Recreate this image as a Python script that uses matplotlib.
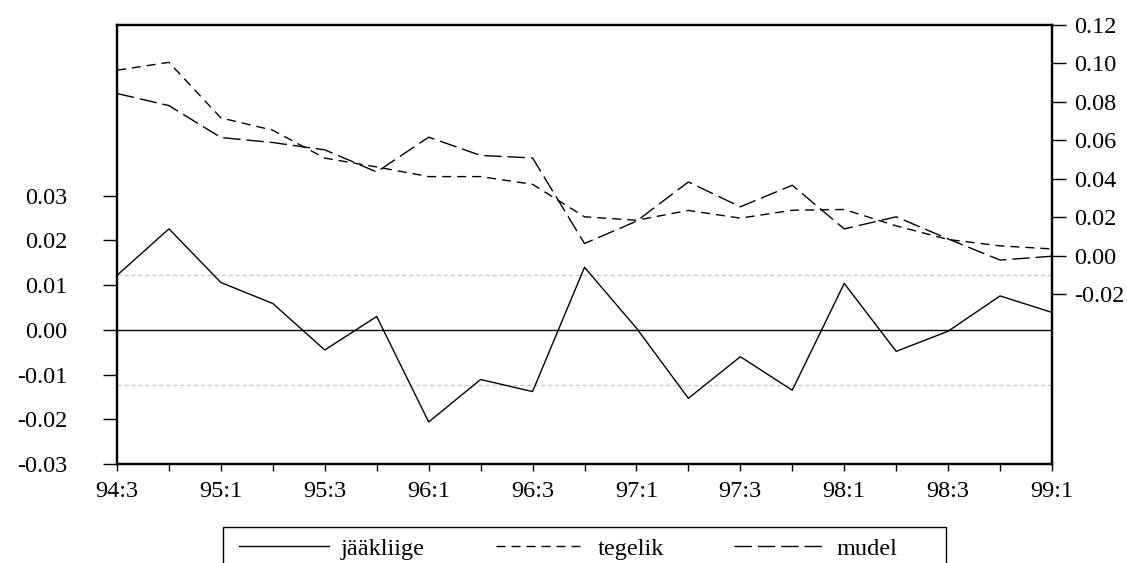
import matplotlib
matplotlib.use("Agg")
import matplotlib.pyplot as plt
import matplotlib.patches as patches
import numpy as np

# quarters 94:3 .. 99:1
quarters = ["94:3", "94:4", "95:1", "95:2", "95:3", "95:4", "96:1", "96:2",
            "96:3", "96:4", "97:1", "97:2", "97:3", "97:4", "98:1", "98:2",
            "98:3", "98:4", "99:1"]

# residual (left axis)
jaakliige = [0.0122, 0.0226, 0.0106, 0.0059, -0.0045, 0.0030, -0.0206, -0.0111,
             -0.0138, 0.0140, 0.0004, -0.0153, -0.0060, -0.0135, 0.0104, -0.0048,
             -0.0003, 0.0076, 0.0039]

# actual (right axis)
tegelik = [0.0965, 0.1006, 0.0717, 0.0653, 0.0508, 0.0462, 0.0412, 0.0412,
           0.0372, 0.0203, 0.0185, 0.0236, 0.0196, 0.0237, 0.0241, 0.0156,
           0.0085, 0.0052, 0.0036]

# fitted (right axis)
mudel = [0.0844, 0.0781, 0.0615, 0.0589, 0.0551, 0.0436, 0.0617, 0.0522,
         0.0509, 0.0064, 0.0180, 0.0384, 0.0255, 0.0367, 0.0140, 0.0203,
         0.0088, -0.0022, -0.0002]

# standard error band of the residual
se = 0.0123

left_ticks = [-0.03, -0.02, -0.01, 0.00, 0.01, 0.02, 0.03]
right_ticks = [-0.02, 0.00, 0.02, 0.04, 0.06, 0.08, 0.10, 0.12]

plt.rcParams['font.family'] = ['Liberation Serif', 'DejaVu Serif']
plt.rcParams['axes.unicode_minus'] = False
fs = 17.5
W, H = 1127, 563

fig = plt.figure(figsize=(W / 100, H / 100), dpi=100)
ax = fig.add_axes([117 / W, 1 - 464 / H, (1052 - 117) / W, (464 - 25) / H])
ax2 = ax.twinx()

x = np.arange(len(quarters))

# residual part
ax.axhline(0, color="black", lw=1.0, zorder=1)
ax.axhline(se, color="#c8c8c8", lw=1.0, ls=(0, (3, 2)), zorder=1)
ax.axhline(-se, color="#c8c8c8", lw=1.0, ls=(0, (3, 2)), zorder=1)
l1, = ax.plot(x, jaakliige, color="black", lw=1.0, label="jääkliige")

# actual and fitted
l2, = ax2.plot(x, tegelik, color="black", lw=1.0, ls=(0, (6.5, 4.3)), label="tegelik")
l3, = ax2.plot(x, mudel, color="black", lw=1.0, ls=(0, (12.5, 4.3)), label="mudel")

ax.set_xlim(0, len(quarters) - 1)
ax.set_ylim(-0.03, 0.0682)
ax2.set_ylim(-0.1082, 0.12)

ax.set_xticks(x)
ax.set_xticklabels([q if i % 2 == 0 else "" for i, q in enumerate(quarters)], fontsize=fs)
ax.set_yticks(left_ticks)
ax.set_yticklabels(["%.2f" % v for v in left_ticks], fontsize=fs)
ax2.set_yticks(right_ticks)
ax2.set_yticklabels(["%.2f" % v for v in right_ticks], fontsize=fs)

ax.tick_params(axis="x", direction="out", length=5, width=1, pad=7)
ax.tick_params(axis="y", direction="out", length=10, width=1, pad=26)
ax2.tick_params(axis="y", direction="out", length=10, width=1, pad=6)

for a in (ax, ax2):
    for s in a.spines.values():
        s.set_linewidth(1.6)

# legend entries, box drawn separately (it runs off the bottom edge)
fig.legend(handles=[l1, l2, l3], loc="upper left",
           bbox_to_anchor=(228 / W, 1 - 527 / H), ncol=3,
           fontsize=fs, frameon=False,
           handlelength=3.7, handletextpad=0.5, columnspacing=2.9,
           borderpad=0.45, borderaxespad=0)
fig.patches.append(patches.Rectangle((223 / W, -0.05), (946 - 223) / W, 0.05 + 1 - 527 / H,
                                     transform=fig.transFigure, fill=False,
                                     edgecolor="black", lw=1.0))

fig.savefig("out.png", dpi=100)
